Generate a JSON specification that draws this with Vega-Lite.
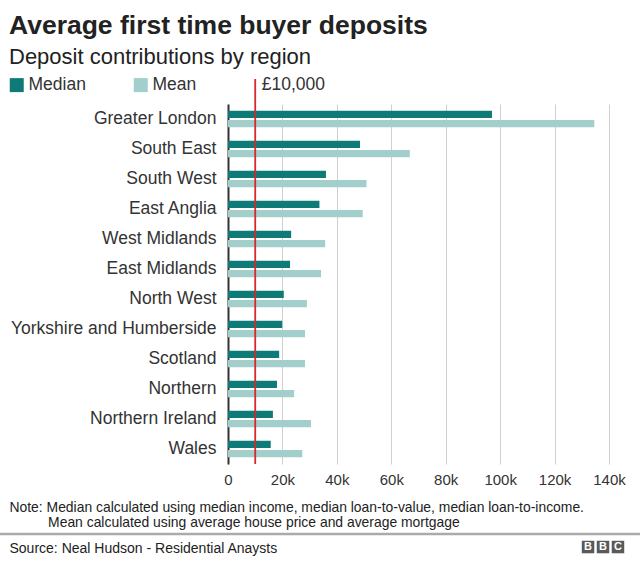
{
  "$schema": "https://vega.github.io/schema/vega-lite/v6.json",
  "autosize": {"type": "none"},
  "width": 381,
  "height": 360,
  "padding": {"left": 228, "top": 104, "right": 31, "bottom": 98},
  "background": "white",
  "config": {
    "font": "Liberation Sans",
    "view": {"stroke": null},
    "text": {"font": "Liberation Sans"}
  },
  "title": {
    "text": "Average first time buyer deposits",
    "subtitle": "Deposit contributions by region",
    "anchor": "start",
    "frame": "group",
    "dx": -219,
    "fontSize": 26.5,
    "fontWeight": "bold",
    "color": "#222222",
    "subtitleFontSize": 22,
    "subtitleColor": "#222222",
    "subtitlePadding": 7,
    "offset": 8
  },
  "data": {
    "values": [
      {"region": "Greater London", "measure": "Median", "value": 97000},
      {"region": "Greater London", "measure": "Mean", "value": 134600},
      {"region": "South East", "measure": "Median", "value": 48500},
      {"region": "South East", "measure": "Mean", "value": 66800},
      {"region": "South West", "measure": "Median", "value": 36000},
      {"region": "South West", "measure": "Mean", "value": 50900},
      {"region": "East Anglia", "measure": "Median", "value": 33600},
      {"region": "East Anglia", "measure": "Mean", "value": 49500},
      {"region": "West Midlands", "measure": "Median", "value": 23200},
      {"region": "West Midlands", "measure": "Mean", "value": 35700},
      {"region": "East Midlands", "measure": "Median", "value": 22800},
      {"region": "East Midlands", "measure": "Mean", "value": 34200},
      {"region": "North West", "measure": "Median", "value": 20500},
      {"region": "North West", "measure": "Mean", "value": 29000},
      {"region": "Yorkshire and Humberside", "measure": "Median", "value": 19900},
      {"region": "Yorkshire and Humberside", "measure": "Mean", "value": 28300},
      {"region": "Scotland", "measure": "Median", "value": 18800},
      {"region": "Scotland", "measure": "Mean", "value": 28300},
      {"region": "Northern", "measure": "Median", "value": 18000},
      {"region": "Northern", "measure": "Mean", "value": 24300},
      {"region": "Northern Ireland", "measure": "Median", "value": 16500},
      {"region": "Northern Ireland", "measure": "Mean", "value": 30500},
      {"region": "Wales", "measure": "Median", "value": 15700},
      {"region": "Wales", "measure": "Mean", "value": 27300}
    ]
  },
  "resolve": {"scale": {"x": "independent", "y": "independent"}},
  "layer": [
    {
      "mark": {"type": "bar"},
      "encoding": {
        "y": {
          "field": "region",
          "type": "nominal",
          "sort": null,
          "scale": {"paddingInner": 0.457, "paddingOuter": 0.2285},
          "axis": {
            "title": "Source: Neal Hudson - Residential Anaysts",
            "titleAngle": 0,
            "titleX": -219,
            "titleY": 448,
            "titleAlign": "left",
            "titleBaseline": "alphabetic",
            "titleFontSize": 14,
            "titleFontWeight": "normal",
            "titleColor": "#222222",
            "labelFontSize": 17.5,
            "labelColor": "#333333",
            "labelPadding": 12,
            "labelLimit": 300,
            "ticks": false,
            "domain": true,
            "domainColor": "#333333",
            "domainWidth": 2
          }
        },
        "yOffset": {
          "field": "measure",
          "type": "nominal",
          "sort": ["Median", "Mean"],
          "scale": {"paddingInner": 0.2, "paddingOuter": 0}
        },
        "x": {
          "field": "value",
          "type": "quantitative",
          "scale": {"domain": [0, 140000], "nice": false},
          "axis": {
            "values": [0, 20000, 40000, 60000, 80000, 100000, 120000, 140000],
            "labelExpr": "datum.value == 0 ? '0' : (datum.value / 1000) + 'k'",
            "labelFlush": false,
            "labelOverlap": false,
            "labelFontSize": 15,
            "labelColor": "#333333",
            "labelPadding": 8,
            "ticks": false,
            "domain": false,
            "grid": true,
            "gridColor": "#d0d0d0",
            "gridWidth": 1,
            "title": ["Note: Median calculated using median income, median loan-to-value, median loan-to-income.", "\u200b\u00a0\u00a0\u00a0\u00a0\u00a0\u00a0\u00a0\u00a0\u00a0\u00a0Mean calculated using average house price and average mortgage"],
            "titleX": -219,
            "titleY": 47,
            "titleAlign": "left",
            "titleAnchor": "start",
            "titleBaseline": "alphabetic",
            "titleFontSize": 13.9,
            "titleLineHeight": 15.7,
            "titleFontWeight": "normal",
            "titleColor": "#222222"
          }
        },
        "color": {
          "field": "measure",
          "type": "nominal",
          "scale": {"domain": ["Median", "Mean"], "range": ["#0e7b78", "#a2cecc"]},
          "legend": {
            "title": null,
            "orient": "none",
            "direction": "horizontal",
            "legendX": -220,
            "legendY": -28,
            "padding": 0,
            "symbolType": "square",
            "symbolSize": 196,
            "symbolStrokeWidth": 0,
            "labelFontSize": 17.5,
            "labelColor": "#333333",
            "labelOffset": 3,
            "columnPadding": 46
          }
        }
      }
    },
    {
      "data": {"values": [{}]},
      "layer": [
        {
          "mark": {"type": "rule", "color": "#d8282b", "strokeWidth": 1.8},
          "encoding": {
            "x": {"datum": 10000, "type": "quantitative", "scale": {"domain": [0, 140000], "nice": false, "zero": false}, "axis": null},
            "y": {"datum": 0, "type": "quantitative", "scale": {"domain": [0, 1], "nice": false, "zero": false}, "axis": null},
            "y2": {"datum": 1.0694}
          }
        },
        {
          "mark": {"type": "text", "align": "left", "baseline": "middle", "dx": 6.5, "fontSize": 17.5, "color": "#333333"},
          "encoding": {
            "x": {"datum": 10000, "type": "quantitative"},
            "y": {"datum": 1.0528, "type": "quantitative"},
            "text": {"value": "£10,000"}
          }
        },
        {
          "mark": {"type": "rule", "color": "#aaaaaa", "strokeWidth": 2.5},
          "encoding": {
            "x": {"datum": -84000, "type": "quantitative"},
            "x2": {"datum": 152000},
            "y": {"datum": -0.1944, "type": "quantitative"}
          }
        },
        {
          "mark": {"type": "square", "color": "#5a5a5a", "opacity": 1, "size": 156},
          "encoding": {
            "x": {"datum": 132300, "type": "quantitative"},
            "y": {"datum": -0.2306, "type": "quantitative"}
          }
        },
        {
          "mark": {"type": "square", "color": "#5a5a5a", "opacity": 1, "size": 156},
          "encoding": {
            "x": {"datum": 137800, "type": "quantitative"},
            "y": {"datum": -0.2306, "type": "quantitative"}
          }
        },
        {
          "mark": {"type": "square", "color": "#5a5a5a", "opacity": 1, "size": 156},
          "encoding": {
            "x": {"datum": 143300, "type": "quantitative"},
            "y": {"datum": -0.2306, "type": "quantitative"}
          }
        },
        {
          "mark": {"type": "text", "align": "center", "baseline": "middle", "fontSize": 11, "fontWeight": "bold", "color": "white"},
          "encoding": {
            "x": {"datum": 132300, "type": "quantitative"},
            "y": {"datum": -0.2306, "type": "quantitative"},
            "text": {"value": "B"}
          }
        },
        {
          "mark": {"type": "text", "align": "center", "baseline": "middle", "fontSize": 11, "fontWeight": "bold", "color": "white"},
          "encoding": {
            "x": {"datum": 137800, "type": "quantitative"},
            "y": {"datum": -0.2306, "type": "quantitative"},
            "text": {"value": "B"}
          }
        },
        {
          "mark": {"type": "text", "align": "center", "baseline": "middle", "fontSize": 11, "fontWeight": "bold", "color": "white"},
          "encoding": {
            "x": {"datum": 143300, "type": "quantitative"},
            "y": {"datum": -0.2306, "type": "quantitative"},
            "text": {"value": "C"}
          }
        }
      ]
    }
  ]
}
